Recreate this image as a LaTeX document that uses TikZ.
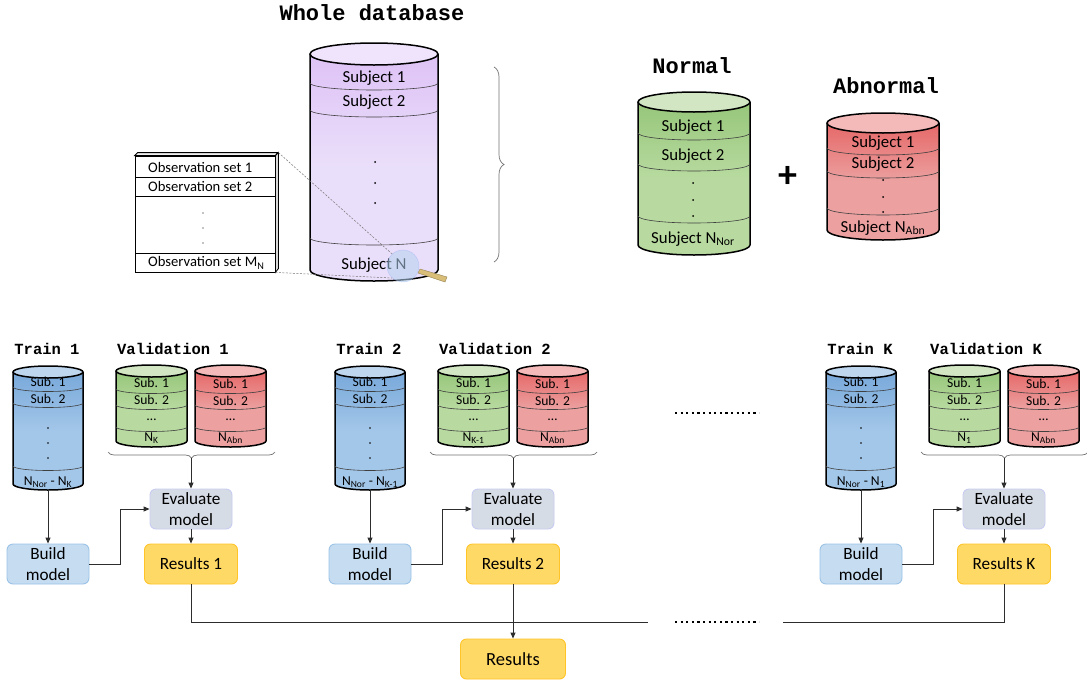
\documentclass[tikz,border=0pt]{standalone}
\usepackage{fontspec}
\setmainfont{Carlito}
\newfontfamily\monofont{Liberation Mono}
\usetikzlibrary{decorations.pathreplacing,arrows.meta,calc}

\definecolor{purtop}{RGB}{240,228,252}
\definecolor{purhi}{RGB}{222,194,246}
\definecolor{purlo}{RGB}{234,223,250}
\definecolor{grntop}{RGB}{210,230,196}
\definecolor{grnhi}{RGB}{150,198,122}
\definecolor{grnlo}{RGB}{184,218,160}
\definecolor{redtop}{RGB}{244,186,186}
\definecolor{redhi}{RGB}{230,104,104}
\definecolor{redlo}{RGB}{236,160,160}
\definecolor{blutop}{RGB}{190,214,238}
\definecolor{bluhi}{RGB}{120,168,218}
\definecolor{blulo}{RGB}{163,199,233}
\definecolor{buildfill}{RGB}{197,220,241}
\definecolor{builddraw}{RGB}{157,195,230}
\definecolor{evalfill}{RGB}{214,220,229}
\definecolor{evaldraw}{RGB}{200,204,240}
\definecolor{resfill}{RGB}{255,217,102}
\definecolor{resdraw}{RGB}{255,196,40}
\definecolor{lensfill}{RGB}{180,210,240}
\definecolor{handlecol}{RGB}{217,190,122}
\definecolor{wire}{RGB}{45,45,45}

% database cylinder: x-left, x-right, y of top centre, y of bottom centre,
% half-height of the ellipses, lid colour, body colour at top, body colour below
\newcommand\dbcyl[8]{%
  \pgfmathsetmacro\cylrx{(#2-#1)/2}%
  \pgfmathsetmacro\cylcx{(#1+#2)/2}%
  \path[top color=#7,bottom color=#8,middle color=#8] (#1,#3) -- (#1,#4)
    arc[start angle=180,end angle=0,x radius=\cylrx,y radius=#5] -- (#2,#3)
    arc[start angle=0,end angle=180,x radius=\cylrx,y radius=#5] -- cycle;
  \draw[cylrim] (#1,#3) -- (#1,#4)
    arc[start angle=180,end angle=0,x radius=\cylrx,y radius=#5] -- (#2,#3);
  \draw[cylrim,fill=#6] (\cylcx,#3) ellipse[x radius=\cylrx,y radius=#5];
}
% curved separator between two records of a cylinder
\newcommand\cyldiv[4]{%
  \pgfmathsetmacro\cylrx{(#2-#1)/2}%
  \draw[divline] (#1,#3) arc[start angle=180,end angle=0,x radius=\cylrx,y radius=#4];
}

\begin{document}
\begin{tikzpicture}[x=1pt,y=-1pt,
  cylrim/.style={line width=1.5pt,draw=black},
  divline/.style={line width=0.6pt,draw=black!75},
  bigtitle/.style={font=\monofont\bfseries\fontsize{22}{24}\selectfont,inner sep=0pt},
  grouptitle/.style={font=\monofont\bfseries\fontsize{15.5}{17}\selectfont,inner sep=0pt},
  subjtxt/.style={font=\fontsize{16.8}{18}\selectfont,inner sep=0pt},
  obstxt/.style={font=\fontsize{14.6}{16}\selectfont,inner sep=0pt,anchor=west},
  subtxt/.style={font=\fontsize{13.6}{15}\selectfont,inner sep=0pt},
  stepbox/.style={rounded corners=6pt,minimum width=82pt,minimum height=40pt,align=center,
    line width=0.9pt,font=\fontsize{17.2}{20.5}\selectfont,inner sep=0pt},
  buildbox/.style={stepbox,fill=buildfill,draw=builddraw},
  evalbox/.style={stepbox,fill=evalfill,draw=evaldraw},
  resbox/.style={stepbox,fill=resfill,draw=resdraw,minimum width=93pt},
  wireline/.style={draw=wire,line width=0.9pt},
  arrowline/.style={wireline,-{Triangle[length=6pt,width=5pt]}},
  bracestyle/.style={draw=black!55,line width=0.7pt,decorate},
  dotrow/.style={line width=2.2pt,dash pattern=on 2.2pt off 3.4pt},
  zoomline/.style={draw=black!55,line width=0.5pt,dash pattern=on 2pt off 1.5pt}
]
\fill[white] (0,0) rectangle (1087,683);
\path[use as bounding box] (0,0) rectangle (1087,683);

% ---------- titles ----------
\node[bigtitle] (ttlwhole) at (372,13) {Whole database};
\node[bigtitle] (ttlnor) at (692,66) {Normal};
\node[bigtitle] (ttlabn) at (886,86) {Abnormal};

% ---------- whole database ----------
\dbcyl{310}{438}{54}{270}{11}{purtop}{purhi}{purlo}
\cyldiv{310}{438}{83}{7}
\cyldiv{310}{438}{110}{7}
\cyldiv{310}{438}{238}{7}
\node[subjtxt] (w1) at (374,78) {Subject 1};
\node[subjtxt] (w2) at (374,102) {Subject 2};
\foreach \yy in {162,183,203} \fill (375,\yy) circle (1pt);
\node[subjtxt] (wn) at (374,265) {Subject N};

% observation sets of one subject
\node[draw=black,line width=0.8pt,fill=white,minimum width=140pt,minimum height=116pt,inner sep=0pt] (obs) at (205,214) {};
\draw[line width=0.8pt,fill=black!6] (obs.north west) -- ++(3,-3) -- ++(140,0) -- (obs.north east) -- cycle;
\draw[line width=0.8pt,fill=black!15] (obs.north east) -- ++(3,-3) -- ++(0,116) -- (obs.south east) -- cycle;
\draw[line width=0.6pt] (135,177) -- (275,177);
\draw[line width=1pt] (135,196) -- (275,196);
\draw[line width=0.6pt] (135,253) -- (275,253);
\node[obstxt] (o1) at (148,167) {Observation set 1};
\node[obstxt] (o2) at (148,186) {Observation set 2};
\foreach \yy in {213,228,243} \fill (203,\yy) circle (0.7pt);
\node[obstxt] (om) at (148,263) {Observation set M\textsubscript{N}};

% magnifier over subject N
\node[circle,minimum size=32pt,inner sep=0pt,fill=lensfill,fill opacity=0.55,draw=lensfill!70!blue,draw opacity=0.35] (lens) at (403,266) {};
\fill[handlecol,draw=handlecol!70!black,line width=0.4pt] (420,269) -- (447,277) -- (445,282) -- (418,273) -- cycle;
\draw[zoomline] ([shift={(3,-3)}]obs.north east) -- (lens.132);
\draw[zoomline] (obs.south east) -- (lens.228);

% split into two classes
\draw[bracestyle,decoration={brace,amplitude=10pt}] (494,67) -- (494,262);

% ---------- normal ----------
\dbcyl{638}{750}{102}{245}{10}{grntop}{grnhi}{grnlo}
\cyldiv{638}{750}{133}{7}
\cyldiv{638}{750}{164}{7}
\cyldiv{638}{750}{216}{7}
\node[subjtxt] (n1) at (693,127) {Subject 1};
\node[subjtxt] (n2) at (693,156) {Subject 2};
\foreach \yy in {183,200,216} \fill (693,\yy) circle (1pt);
\node[subjtxt] (nn) at (693,239) {Subject N\textsubscript{Nor}};

\node[font=\bfseries\fontsize{38}{40}\selectfont,inner sep=0pt] (plus) at (788,177) {+};

% ---------- abnormal ----------
\dbcyl{827}{939}{123}{230}{10}{redtop}{redhi}{redlo}
\cyldiv{827}{939}{148}{7}
\cyldiv{827}{939}{171}{7}
\cyldiv{827}{939}{208}{7}
\node[subjtxt] (a1) at (883,143) {Subject 1};
\node[subjtxt] (a2) at (883,164) {Subject 2};
\foreach \yy in {180,197,212} \fill (883,\yy) circle (1pt);
\node[subjtxt] (an) at (883,228) {Subject N\textsubscript{Abn}};

% ---------- cross-validation folds ----------
\foreach \ox/\g/\nk in {0/1/K,322/2/K-1,813/K/1}{
\begin{scope}[xshift=\ox pt]
  \node[grouptitle] (trt\g) at (47,349) {Train \g};
  \node[grouptitle] (vat\g) at (173,349) {Validation \g};
  % training set
  \dbcyl{13}{83}{372}{484}{6}{blutop}{bluhi}{blulo}
  \cyldiv{13}{83}{387}{4.5}
  \cyldiv{13}{83}{403}{4.5}
  \cyldiv{13}{83}{466}{4.5}
  \node[subtxt] (ts1\g) at (48,382) {Sub. 1};
  \node[subtxt] (ts2\g) at (48,399) {Sub. 2};
  \foreach \yy in {428,443,458} \fill (48,\yy) circle (0.8pt);
  \node[subtxt] (tsn\g) at (48,482) {N\textsubscript{Nor} - N\textsubscript{\nk}};
  \coordinate (trb\g) at (48,490);
  % validation: normal part
  \dbcyl{116}{187}{371}{441}{6}{grntop}{grnhi}{grnlo}
  \cyldiv{116}{187}{389}{4.5}
  \cyldiv{116}{187}{405}{4.5}
  \cyldiv{116}{187}{427}{4.5}
  \node[subtxt] (vn1\g) at (151.5,383) {Sub. 1};
  \node[subtxt] (vn2\g) at (151.5,400) {Sub. 2};
  \node[subtxt] (vnd\g) at (151.5,420) {…};
  \node[subtxt] (vnn\g) at (151.5,438) {N\textsubscript{\nk}};
  % validation: abnormal part
  \dbcyl{195}{266}{371}{441}{6}{redtop}{redhi}{redlo}
  \cyldiv{195}{266}{389}{4.5}
  \cyldiv{195}{266}{405}{4.5}
  \cyldiv{195}{266}{427}{4.5}
  \node[subtxt] (va1\g) at (230.5,384) {Sub. 1};
  \node[subtxt] (va2\g) at (230.5,401) {Sub. 2};
  \node[subtxt] (vad\g) at (230.5,420) {…};
  \node[subtxt] (van\g) at (230.5,438) {N\textsubscript{Abn}};
  \draw[bracestyle,decoration={brace,amplitude=6pt}] (275,452) -- (108,452);
  \coordinate (vtip\g) at (191,458);
  % model steps
  \node[evalbox] (eval\g) at (191,509) {Evaluate\\model};
  \node[buildbox] (build\g) at (48,564) {Build\\model};
  \node[resbox] (res\g) at (191,564) {Results \g};
  \draw[arrowline] (vtip\g) -- (eval\g.north);
  \draw[arrowline] (trb\g) -- (build\g.north);
  \draw[arrowline] (build\g.east) -- ++(31,0) |- (eval\g.west);
  \draw[arrowline] (eval\g.south) -- (res\g.north);
\end{scope}
}

% folds omitted between 2 and K
\draw[dotrow] (675,413) -- (759,413);

% ---------- collecting the results ----------
\node[resbox,minimum width=105pt,font=\fontsize{18.5}{20}\selectfont] (final) at (513,659) {Results};
\coordinate (busA) at (648,622);
\coordinate (busB) at (783,622);
\draw[wireline] (res1.south) |- (busA);
\draw[dotrow] (675,622) -- (759,622);
\draw[wireline] (resK.south) |- (busB);
\draw[arrowline] (res2.south) -- (final.north);
\end{tikzpicture}
\end{document}
